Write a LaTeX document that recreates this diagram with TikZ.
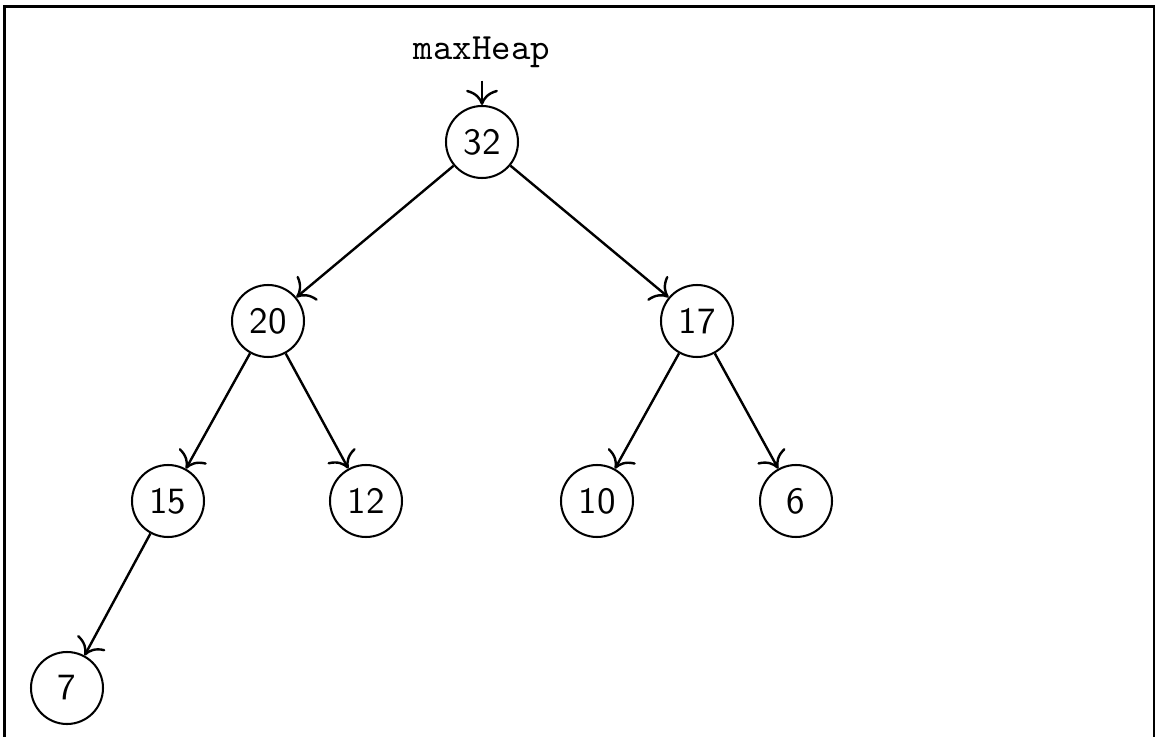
\documentclass[tikz,border=0pt]{standalone}
\usetikzlibrary{arrows.meta}
\begin{document}
\begin{tikzpicture}[x=0.27pt,y=-0.27pt,
  heapnode/.style={draw,circle,line width=0.55pt,minimum size=19.44pt,inner sep=0pt,font=\sffamily},
  edge/.style={-{To[scale=1.35]},line width=0.65pt},
  frameline/.style={line width=0.8pt}]
\useasboundingbox (0,0) rectangle (1156,737);
\draw[frameline] (4.5,737) -- (4.5,6.5) -- (1154,6.5) -- (1154,737);
\node[font=\ttfamily] (mh) at (482,52) {maxHeap};
\node[heapnode] (n32) at (482,142) {32};
\node[heapnode] (n20) at (268,321) {20};
\node[heapnode] (n17) at (697,321) {17};
\node[heapnode] (n15) at (168,501) {15};
\node[heapnode] (n12) at (366,501) {12};
\node[heapnode] (n10) at (597,501) {10};
\node[heapnode] (n6) at (796,501) {6};
\node[heapnode] (n7) at (67,688) {7};
\draw[edge] (mh) -- (n32);
\draw[edge] (n32) -- (n20);
\draw[edge] (n32) -- (n17);
\draw[edge] (n20) -- (n15);
\draw[edge] (n20) -- (n12);
\draw[edge] (n17) -- (n10);
\draw[edge] (n17) -- (n6);
\draw[edge] (n15) -- (n7);
\end{tikzpicture}
\end{document}
